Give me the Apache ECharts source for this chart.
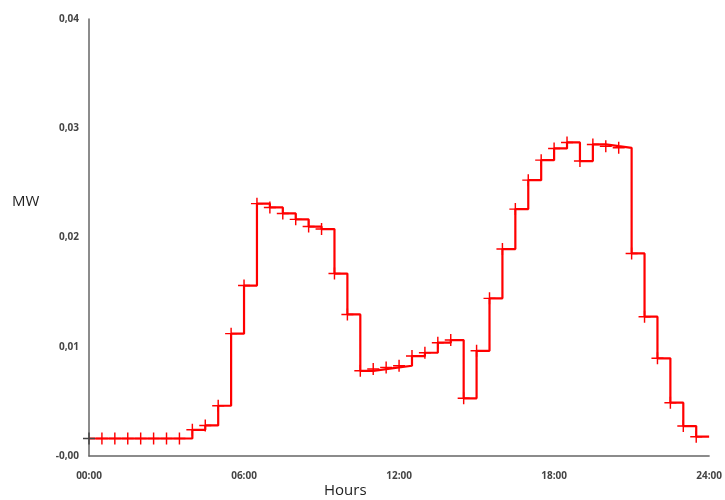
<!DOCTYPE html>
<html>
<head>
<meta charset="utf-8">
<script src="https://cdn.jsdelivr.net/npm/echarts@6/dist/echarts.min.js"></script>
<style>
html,body{margin:0;padding:0;background:#fff;}
#chart{width:725px;height:500px;}
</style>
</head>
<body>
<div id="chart"></div>
<script>
// Half-hourly times (hours) and power values (MW)
var hours = [0,0.5,1,1.5,2,2.5,3,3.5,4,4.5,5,5.5,6,6.5,7,7.5,8,8.5,9,9.5,10,10.5,11,11.5,
             12,12.5,13,13.5,14,14.5,15,15.5,16,16.5,17,17.5,18,18.5,19,19.5,20,20.5,21,21.5,22,22.5,23,23.5];
var powerMW = [0.0016,0.0016,0.0016,0.0016,0.0016,0.0016,0.0016,0.0016,
               0.0024,0.0028,0.0046,0.0112,0.0156,0.0231,0.02275,0.0222,0.02166,0.0210,0.02077,
               0.0167,0.01296,0.0078,0.00796,0.00811,0.00826,0.00915,0.00945,0.01037,0.01061,
               0.00528,0.00963,0.01443,0.01894,0.0226,0.02525,0.02708,0.02815,0.0287,0.0270,
               0.02852,0.02836,0.02821,0.01854,0.01275,0.00894,0.00488,0.00274,0.00177];
var dayEnd = 24;
var xTickLabels = ['00:00','06:00','12:00','18:00','24:00'];
var yTickLabels = ['-0,00','0,01','0,02','0,03','0,04'];

var plusPath = 'path://M4.4,0H5.6V4.4H10V5.6H5.6V10H4.4V5.6H0V4.4H4.4Z';

var seriesData = hours.map(function (h, i) {
  var item = { value: [h, powerMW[i]] };
  if (i === 0) item.itemStyle = { color: '#444' };
  return item;
});
// hold last value until end of day
seriesData.push({ value: [dayEnd, powerMW[powerMW.length - 1]], symbol: 'none' });

var chart = echarts.init(document.getElementById('chart'));
chart.setOption({
  animation: false,
  backgroundColor: '#fff',
  grid: { left: 89, right: 12, top: 19, bottom: 44, containLabel: false },
  xAxis: {
    type: 'value', min: 0, max: 24, interval: 6,
    axisLine: { show: true, lineStyle: { color: '#666', width: 1.5 } },
    axisTick: { show: false },
    splitLine: { show: false },
    axisLabel: {
      margin: 15, fontSize: 10, fontWeight: 'bold', color: '#444', fontFamily: 'Open Sans',
      formatter: function (v) { return xTickLabels[Math.round(v / 6)]; }
    }
  },
  yAxis: {
    type: 'value', min: 0, max: 0.04, interval: 0.01,
    axisLine: { show: true, lineStyle: { color: '#666', width: 1.5 } },
    axisTick: { show: false },
    splitLine: { show: false },
    axisLabel: {
      margin: 10, fontSize: 10, fontWeight: 'bold', color: '#444', fontFamily: 'Open Sans',
      formatter: function (v) { return yTickLabels[Math.round(v / 0.01)]; }
    }
  },
  graphic: [
    { type: 'text', left: 12, top: 194, style: { text: 'MW', font: '15px "Open Sans"', fill: '#222' } },
    { type: 'text', left: 324, top: 483, style: { text: 'Hours', font: '15px "Open Sans"', fill: '#222' } }
  ],
  series: [{
    type: 'line',
    step: 'end',
    data: seriesData,
    symbol: plusPath,
    symbolSize: 12,
    showAllSymbol: true,
    clip: false,
    lineStyle: { color: '#ff0000', width: 2.2 },
    itemStyle: { color: '#ff0000' },
    emphasis: { disabled: true }
  }]
});
</script>
</body>
</html>
